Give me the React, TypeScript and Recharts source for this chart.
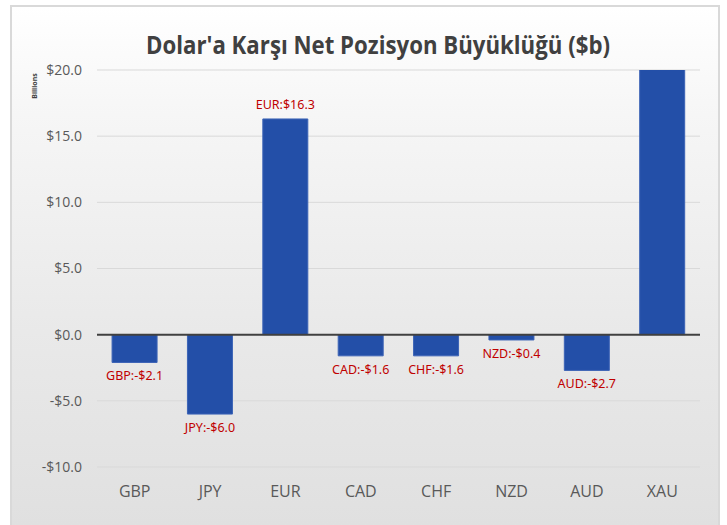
import React from 'react';
import { BarChart, Bar, XAxis, YAxis, CartesianGrid, ReferenceLine } from 'recharts';

const currencies = ['GBP', 'JPY', 'EUR', 'CAD', 'CHF', 'NZD', 'AUD', 'XAU'];
// XAU runs off the top of the axis in the original, so its value is an estimate
const netPositions = [-2.1, -6.0, 16.3, -1.6, -1.6, -0.4, -2.7, 21.0];
const yTicks = [-10, -5, 0, 5, 10, 15, 20];

const data = currencies.map((name, i) => ({ name, value: netPositions[i] }));

const money = (v: number) => `${v < 0 ? '-' : ''}$${Math.abs(v).toFixed(1)}`;

const BarLabel = (props: any) => {
  const { x, y, width, height, value, index } = props;
  if (value > 20) return null; // clipped bar, no label
  const name = currencies[index];
  const top = Math.min(y, y + height);
  const bottom = Math.max(y, y + height);
  const neg = value < 0;
  return (
    <text
      x={x + width / 2}
      y={neg ? bottom + 18 : top - 10}
      textAnchor="middle"
      fill="#c00000"
      fontSize={12.5}
      fontFamily="Noto Sans"
    >
      {`${name}:${money(value)}`}
    </text>
  );
};

const App: React.FC = () => {
  return (
    <div style={{ position: 'absolute', left: 0, top: 0, width: 727, height: 525, overflow: 'hidden', background: '#fff' }}>
      <div
        style={{
          position: 'absolute',
          left: 10,
          top: 5,
          width: 706,
          height: 540,
          border: '2px solid #d9d9d9',
          background: 'linear-gradient(#ffffff 0%, #f6f6f6 20%, #e9e9e9 60%, #dfdfdf 100%)',
        }}
      />
      <svg width={727} height={525} style={{ position: 'absolute', left: 0, top: 0 }}>
        <text
          x={378}
          y={54}
          textAnchor="middle"
          fontFamily="Open Sans"
          fontWeight="bold"
          fontSize={25}
          fill="#404040"
          textLength={464}
          lengthAdjust="spacingAndGlyphs"
        >
          Dolar'a Karşı Net Pozisyon Büyüklüğü ($b)
        </text>
        <text
          x={37}
          y={86}
          transform="rotate(-90 37 86)"
          textAnchor="middle"
          fontFamily="Noto Sans"
          fontWeight="bold"
          fontSize={7}
          fill="#404040"
        >
          Billions
        </text>
      </svg>
      <div style={{ position: 'absolute', left: 0, top: 0 }}>
        <BarChart
          width={727}
          height={525}
          data={data}
          margin={{ top: 70, right: 27, left: 37, bottom: 18 }}
          barCategoryGap="20%"
        >
          <CartesianGrid vertical={false} stroke="#d9d9d9" />
          <XAxis
            dataKey="name"
            axisLine={false}
            tickLine={false}
            tickSize={0}
            tickMargin={19}
            height={40}
            tick={{ fill: '#595959', fontSize: 16, fontFamily: 'Open Sans' }}
          />
          <YAxis
            domain={[-10, 20]}
            ticks={yTicks}
            allowDataOverflow
            axisLine={false}
            tickLine={false}
            tickSize={0}
            tickMargin={15}
            width={60}
            tickFormatter={money}
            tick={{ fill: '#595959', fontSize: 14, fontFamily: 'Open Sans' }}
          />
          <ReferenceLine y={0} stroke="#404040" strokeWidth={2} />
          <Bar
            dataKey="value"
            fill="#234fa8"
            stroke="#3c63b6"
            strokeWidth={1}
            isAnimationActive={false}
            label={<BarLabel />}
          />
        </BarChart>
      </div>
    </div>
  );
};

export default App;
